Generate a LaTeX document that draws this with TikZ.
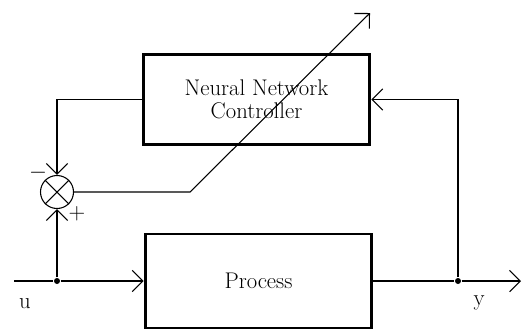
\documentclass[tikz,border=0pt]{standalone}
\usetikzlibrary{arrows.meta}

\begin{document}
\begin{tikzpicture}[x=0.75pt,y=-0.75pt,>={Straight Barb[length=8pt,width=16pt]},
    thick,block node/.style={rectangle,draw,line width=2.2pt,minimum width=170pt,minimum height=68pt,align=center,font=\fontsize{17}{17.25}\selectfont},
    sum node/.style={circle,draw,inner sep=0pt,minimum size=24.75pt},
    small node/.style={circle,fill=black,inner sep=0pt,minimum size=4.5pt},
    text node/.style={inner sep=0pt,font=\fontsize{17}{17}\selectfont}]
  \useasboundingbox (0,0) rectangle (524,330);
  % blocks
  \node[block node] (nn) at (256.5,99.5) {Neural Network\\Controller};
  \node[block node,minimum height=70.5pt] (proc) at (258.5,281) {Process};
  % summing junction
  \node[sum node] (sum) at (57,192) {};
  \draw (sum.north west) -- (sum.south east) (sum.north east) -- (sum.south west);
  % branch points
  \node[small node] (ujoin) at (57,281) {};
  \node[small node] (yjoin) at (458,281) {};
  \coordinate (uin) at (14,281);
  \coordinate (yout) at (521,281);
  \coordinate (bend) at (190,192);
  \coordinate (tip) at (370,13);
  % signals
  \path[-] (uin) edge (ujoin);
  \path[->] (ujoin) edge (proc.west);
  \path[->] (ujoin) edge (sum.south);
  \path[-] (proc.east) edge (yjoin);
  \path[->] (yjoin) edge (yout);
  \draw[->] (yjoin) |- (nn.east);
  \draw[->] (nn.west) -| (sum.north);
  \draw[->] (sum.east) -- (bend) -- (tip);
  % labels
  \node[text node] (minus) at (38,173) {$-$};
  \node[text node] (plus) at (77,214) {$+$};
  \node[text node] (ulab) at (25,304) {u};
  \node[text node] (ylab) at (479,303) {y};
\end{tikzpicture}
\end{document}
